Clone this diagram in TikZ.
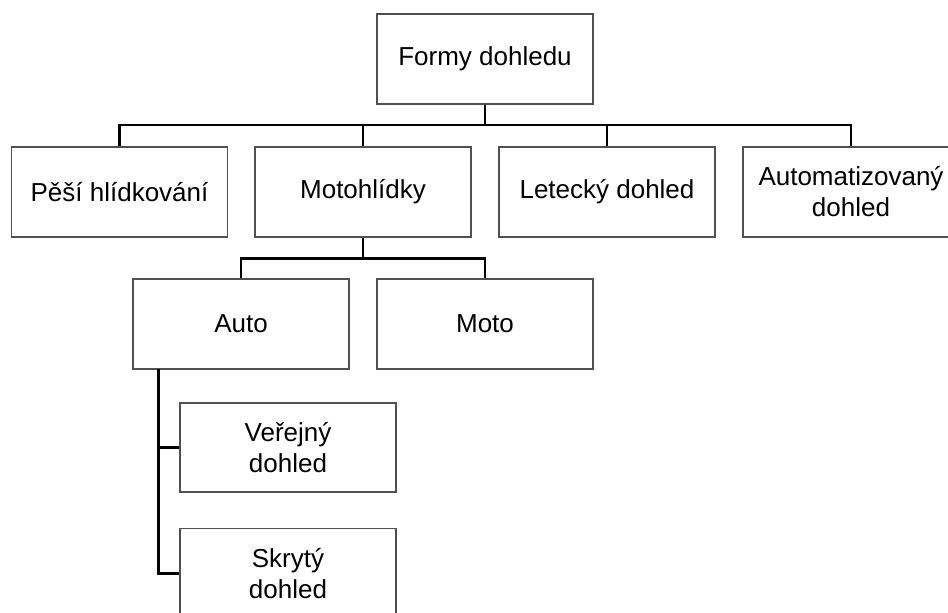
\documentclass[tikz,border=0pt]{standalone}
\usepackage{fontspec}
\setmainfont{Liberation Sans}
\definecolor{boxgray}{HTML}{505050}
\tikzset{
  unit/.style={draw=boxgray, line width=1.1pt, fill=white, align=center,
    minimum width=216pt, minimum height=90pt, inner sep=0pt,
    font=\fontsize{26}{31}\selectfont},
  link/.style={draw=black, line width=2.2pt}
}
\begin{document}
\begin{tikzpicture}[x=1pt,y=-1pt]
\clip (0,0) rectangle (948,613);
\fill[white] (0,0) rectangle (948,613);
\node[unit] (root) at (485,59) {Formy dohledu};
\node[unit] (pesi) at (119.5,192) {Pěší hlídkování};
\node[unit] (moto) at (363,192) {Motohlídky};
\node[unit] (let) at (607,192) {Letecký dohled};
\node[unit] (aut) at (851,192) {Automatizovaný\\dohled};
\node[unit] (auto) at (241,324) {Auto};
\node[unit] (mot) at (485,324) {Moto};
\node[unit, minimum height=89pt] (ver) at (288,447.5) {Veřejný\\dohled};
\node[unit] (skr) at (288,573.5) {Skrytý\\dohled};
\coordinate (b1) at (485,125);
\coordinate (b2) at (363,258.5);
\coordinate (trunk) at (158.5,369);
\draw[link] (root.south) -- (b1);
\draw[link] (pesi.north) |- (b1) -| (aut.north);
\draw[link] (moto.north) -- (moto.north |- b1);
\draw[link] (let.north) -- (let.north |- b1);
\draw[link] (moto.south) -- (b2);
\draw[link] (auto.north) |- (b2) -| (mot.north);
\draw[link] (trunk) |- (skr.west);
\draw[link] (trunk |- ver.west) -- (ver.west);
\end{tikzpicture}
\end{document}
